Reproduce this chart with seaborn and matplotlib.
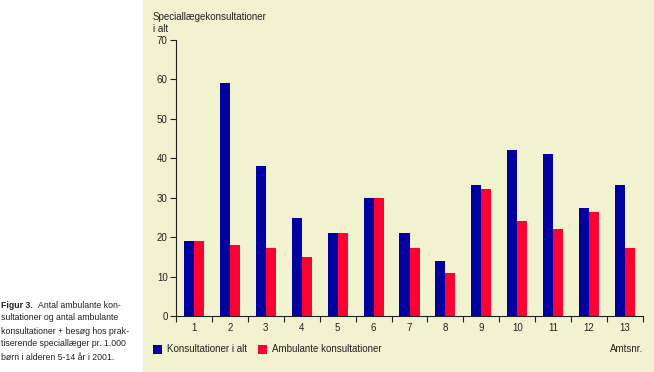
import matplotlib
matplotlib.use("Agg")
import matplotlib.pyplot as plt
import seaborn as sns
import pandas as pd
import numpy as np
from matplotlib.patches import Rectangle

amter = ["1", "2", "3", "4", "5", "6", "7", "8", "9", "10", "11", "12", "13"]
konsultationer_i_alt = [19, 59, 38, 24.8, 21, 30, 21, 14, 33.2, 42.1, 41.1, 27.3, 33.2]
ambulante = [19, 18, 17.3, 15, 21, 30, 17.3, 11, 32.3, 24.1, 22, 26.3, 17.3]
series_names = ["Konsultationer i alt", "Ambulante konsultationer"]
yticks = [0, 10, 20, 30, 40, 50, 60, 70]

df = pd.DataFrame({
    "Amt": amter * 2,
    "Serie": [series_names[0]] * len(amter) + [series_names[1]] * len(amter),
    "Værdi": konsultationer_i_alt + ambulante,
})

sns.set_theme(style="white")
FAM = ["Liberation Sans Narrow", "Liberation Sans", "DejaVu Sans"]
plt.rcParams["font.family"] = FAM

BG = "#F3F2D0"
BLUE = "#0000A0"
RED = "#FF0033"
TXT = "#222222"
FS = 7

fig = plt.figure(figsize=(6.54, 3.72), dpi=100)
fig.patch.set_facecolor("white")
fig.patches.append(Rectangle((143 / 654, 0), 1 - 143 / 654, 1, transform=fig.transFigure,
                             facecolor=BG, edgecolor="none", zorder=-10))

ax = fig.add_axes([176 / 654, 1 - 316 / 372, (643 - 176) / 654, (316 - 40) / 372])
ax.set_facecolor(BG)
sns.barplot(data=df, x="Amt", y="Værdi", hue="Serie", order=amter,
            hue_order=series_names, palette=[BLUE, RED], width=0.56,
            dodge=True, saturation=1, ax=ax, legend=False, edgecolor="none")

ax.set_xlim(-0.5, len(amter) - 0.5)
ax.set_ylim(0, 70)
ax.set_yticks(yticks)
ax.set_yticklabels([str(v) for v in yticks], fontsize=FS, color=TXT)
ax.set_xticks(range(len(amter)))
ax.set_xticklabels(amter, fontsize=FS, color=TXT)
ax.set_xticks(np.arange(-0.5, len(amter)), minor=True)
ax.tick_params(axis="x", which="major", length=0, pad=5)
ax.tick_params(axis="x", which="minor", length=4, width=0.8, color=TXT, direction="out", bottom=True)
ax.tick_params(axis="y", which="major", length=4, width=0.8, color=TXT, direction="out", left=True, pad=2)
ax.set_xlabel("")
ax.set_ylabel("")
for s in ["top", "right"]:
    ax.spines[s].set_visible(False)
for s in ["left", "bottom"]:
    ax.spines[s].set_color(TXT)
    ax.spines[s].set_linewidth(0.8)

fig.text(153 / 654, 1 - 17 / 372, "Speciallægekonsultationer", fontsize=FS, va="center", ha="left", color=TXT)
fig.text(153 / 654, 1 - 29 / 372, "i alt", fontsize=FS, va="center", ha="left", color=TXT)

# legend
ly = 1 - 349 / 372
fig.patches.append(Rectangle((153 / 654, ly - 4.5 / 372), 9 / 654, 9 / 372, transform=fig.transFigure,
                             facecolor=BLUE, edgecolor="none"))
fig.text(167 / 654, ly, series_names[0], fontsize=FS, va="center", ha="left", color=TXT)
fig.patches.append(Rectangle((258 / 654, ly - 4.5 / 372), 9 / 654, 9 / 372, transform=fig.transFigure,
                             facecolor=RED, edgecolor="none"))
fig.text(272 / 654, ly, series_names[1], fontsize=FS, va="center", ha="left", color=TXT)
fig.text(643 / 654, ly, "Amtsnr.", fontsize=FS, va="center", ha="right", color=TXT)

# caption
cap_lines = ["Antal ambulante kon-",
             "sultationer og antal ambulante",
             "konsultationer + besøg hos prak-",
             "tiserende speciallæger pr. 1.000",
             "børn i alderen 5-14 år i 2001."]
CFS = 6.3
y0 = 305
sp = 13
fig.text(1 / 654, 1 - y0 / 372, "Figur 3.", fontsize=CFS, fontweight="bold", va="center", ha="left", color=TXT)
fig.text(38 / 654, 1 - y0 / 372, cap_lines[0], fontsize=CFS, va="center", ha="left", color=TXT)
for i, line in enumerate(cap_lines[1:], start=1):
    fig.text(1 / 654, 1 - (y0 + i * sp) / 372, line, fontsize=CFS, va="center", ha="left", color=TXT)

fig.savefig("out.png", dpi=100, facecolor=fig.get_facecolor())
